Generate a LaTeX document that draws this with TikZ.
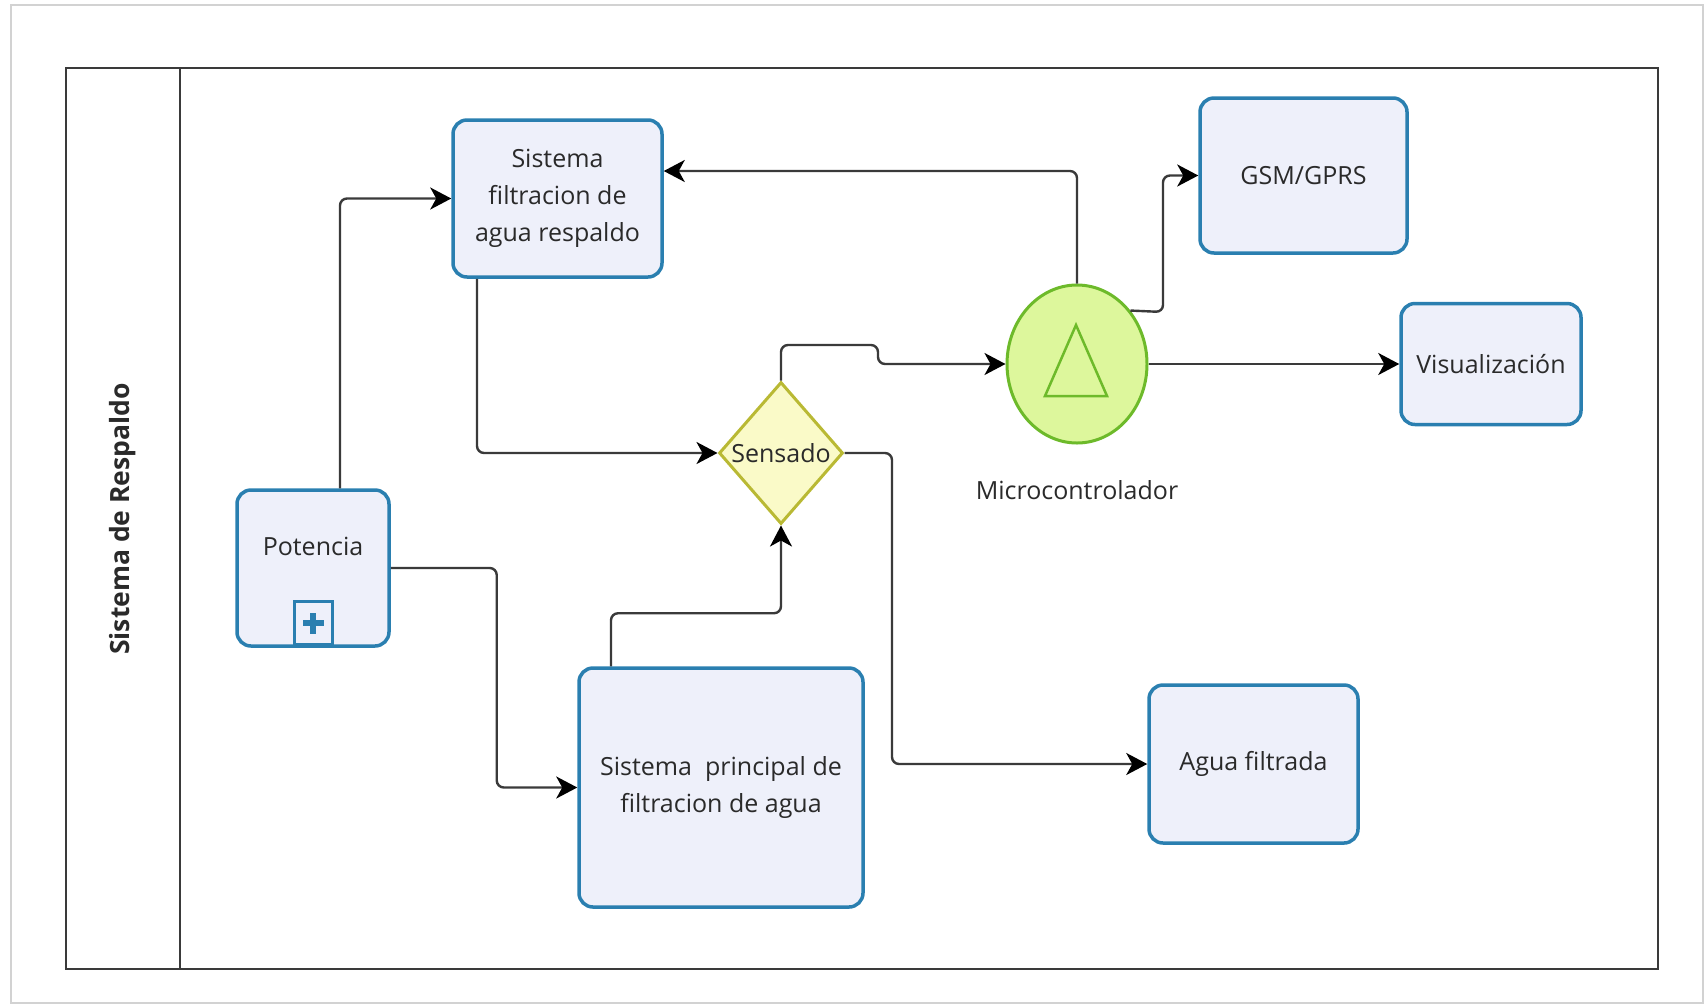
\documentclass[tikz,border=0pt]{standalone}
\usepackage{fontspec}
\setmainfont{Open Sans}
\usetikzlibrary{arrows.meta,shapes.geometric,calc}
\definecolor{boxfill}{HTML}{EEF0FA}
\definecolor{boxline}{HTML}{2A7FB0}
\definecolor{dmdfill}{HTML}{FAFAC8}
\definecolor{dmdline}{HTML}{B9B934}
\definecolor{mcfill}{HTML}{DDF79C}
\definecolor{mcline}{HTML}{6DBA2A}
\definecolor{conn}{HTML}{3A3A3A}
\definecolor{txt}{HTML}{2A2A2A}
\tikzset{
  task/.style={draw=boxline, fill=boxfill, line width=3.5pt, rounded corners=14pt,
    inner sep=0pt, align=center, text=txt, font=\fontsize{25}{37}\selectfont},
  gate/.style={draw=dmdline, fill=dmdfill, line width=3pt, shape=diamond, inner sep=0pt,
    minimum width=124pt, minimum height=142pt},
  event/.style={draw=mcline, fill=mcfill, line width=3pt, shape=ellipse, inner sep=0pt,
    minimum width=140pt, minimum height=158pt},
  flow/.style={draw=conn, line width=2.4pt, rounded corners=7pt,
    -{Stealth[length=21pt,width=22pt,inset=6pt,color=black]}},
  lbl/.style={text=txt, font=\fontsize{25}{30}\selectfont},
  pool/.style={draw=conn, line width=2.5pt}
}
\begin{document}
\begin{tikzpicture}[x=1pt,y=-1pt]
\useasboundingbox (0,0) rectangle (1707,1005);
% faint page frame
\draw[gray!35, line width=2pt] (11,5) rectangle (1703,1003);
% pool and lane
\draw[pool] (66,68) rectangle (1658,969);
\draw[pool] (180,68) -- (180,969);
\node[rotate=90, text=txt, font=\bfseries\fontsize{26.5}{30}\selectfont] (lane) at (123,519) {Sistema de Respaldo};

% nodes
\node[task, minimum width=209pt, minimum height=157pt] (resp) at (557.5,198.5) {Sistema\\filtracion de\\agua respaldo};
\node[task, minimum width=152pt, minimum height=156pt] (pot) at (313,568) {};
\node[lbl] (pottext) at (313,546) {Potencia};
\node[draw=boxline, fill=boxfill, line width=3pt, minimum width=38pt, minimum height=43pt, inner sep=0pt, anchor=south] (plus) at ([yshift=1.75pt]pot.south) {};
\fill[boxline] ($(plus.center)+(-10.5,-3)$) rectangle ($(plus.center)+(10.5,3)$);
\fill[boxline] ($(plus.center)+(-3,-10.5)$) rectangle ($(plus.center)+(3,10.5)$);
\node[task, minimum width=284pt, minimum height=239pt] (princ) at (721,787.5) {Sistema\ \ principal de\\filtracion de agua};
\node[task, minimum width=207pt, minimum height=155pt] (gsm) at (1303.5,175.5) {GSM/GPRS};
\node[task, minimum width=180pt, minimum height=121pt] (vis) at (1491,364) {Visualización};
\node[task, minimum width=209pt, minimum height=158pt] (agua) at (1253.5,764) {Agua filtrada};
\node[gate] (sens) at (781,453) {};
\node[lbl] (senstext) at (sens.center) {Sensado};
\node[event] (mc) at (1077,364) {};
\draw[mcline, line width=2.5pt, line join=miter] ($(mc.center)+(-1,-39)$) -- ($(mc.center)+(30,32)$) -- ($(mc.center)+(-32,32)$) -- cycle;
\node[lbl] (mclabel) at (1077,490) {Microcontrolador};

% connectors
\draw[flow] ([xshift=27pt]pot.north) |- (resp.west);
\draw[flow] (pot.east) -- ++(106,0) |- (princ.west);
\draw[flow] ([xshift=-80.5pt]resp.south) |- (sens.west);
\draw[flow] ([xshift=-110pt]princ.north) -- ++(0,-53) -| (sens.south);
\draw[flow] (sens.north) |- (878,345) |- (mc.west);
\draw[flow] (sens.east) -- (892,453) |- (agua.west);
\draw[flow] (mc.north) |- ([yshift=27.5pt]resp.east);
\draw[flow] (mc.45) -- (1163,312) |- (gsm.west);
\draw[flow] (mc.east) -- (vis.west);
\end{tikzpicture}
\end{document}
